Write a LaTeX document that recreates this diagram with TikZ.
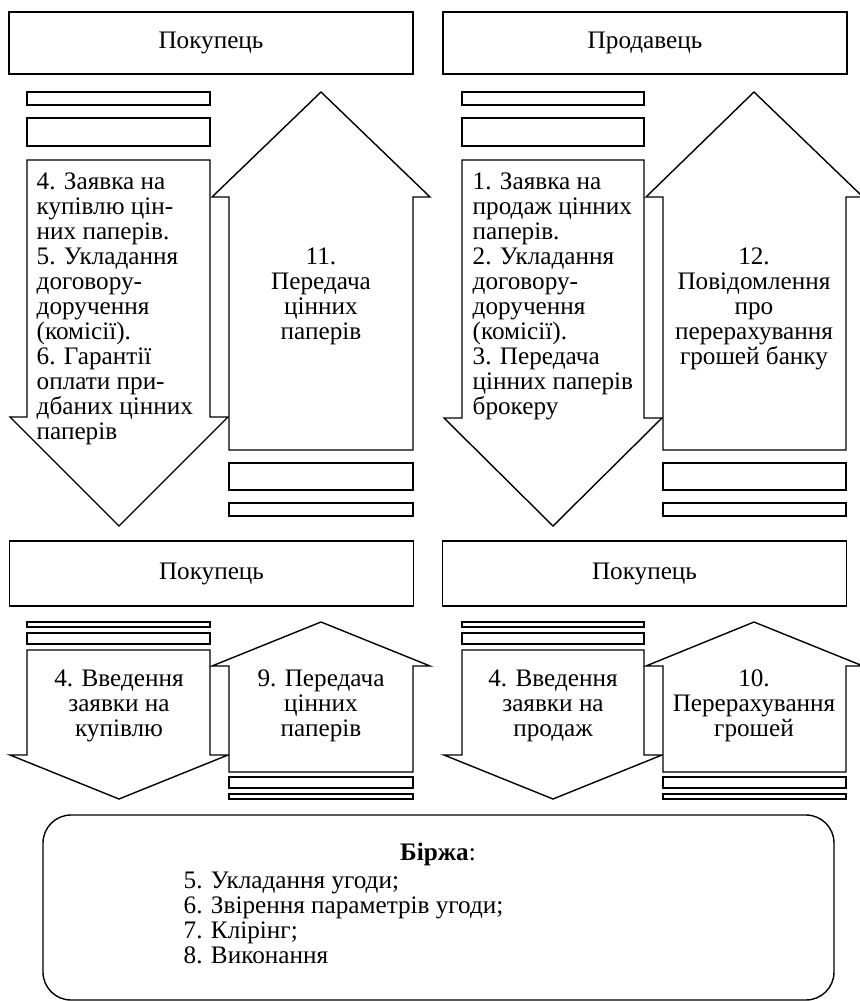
\documentclass[tikz,border=0pt]{standalone}
\usepackage{fontspec}
\setmainfont{Liberation Serif}
\begin{document}
\begin{tikzpicture}[x=0.5pt,y=-0.5pt,line width=0.7pt,line join=miter,
  shp/.style={draw,fill=white},
  txt/.style={inner sep=0pt,font=\fontsize{12.6}{12.5}\selectfont},
  hdr/.style={draw,fill=white,inner sep=0pt,minimum width=202pt,font=\fontsize{12.6}{12.5}\selectfont}]
\useasboundingbox (0,0) rectangle (860,1001);

% ---------- row 1 ----------
\node[hdr,minimum height=31pt] (buyerA) at (211,43) {Покупець};
\node[hdr,minimum height=31pt] (seller) at (645,43) {Продавець};

% bars above down arrows
\draw[shp] (27,92) rectangle (210,105);
\draw[shp] (27,118) rectangle (210,146);
\draw[shp] (462,92) rectangle (644,105);
\draw[shp] (462,118) rectangle (644,146);

% down arrows
\draw[shp] (27,160) -- (210,160) -- (210,417) -- (228,417) -- (119,526) -- (10,417) -- (27,417) -- cycle;
\draw[shp] (462,160) -- (644,160) -- (644,418) -- (662,418) -- (553,526) -- (444,418) -- (462,418) -- cycle;

% up arrows
\draw[shp] (321,92) -- (430,197) -- (413,197) -- (413,450) -- (229,450) -- (229,197) -- (212,197) -- cycle;
\draw[shp] (754,92) -- (863,197) -- (846,197) -- (846,450) -- (663,450) -- (663,197) -- (646,197) -- cycle;

% bars below up arrows
\draw[shp] (229,463) rectangle (413,490);
\draw[shp] (229,503) rectangle (413,516);
\draw[shp] (663,463) rectangle (846,490);
\draw[shp] (663,503) rectangle (846,516);

\node[txt,align=left,anchor=north west] (t4) at (36,172)
  {4. Заявка на\\купівлю цін-\\них паперів.\\5. Укладання\\договору-\\доручення\\(комісії).\\6. Гарантії\\оплати при-\\дбаних цінних\\паперів};
\node[txt,align=left,anchor=north west] (t1) at (472,172)
  {1. Заявка на\\продаж цінних\\паперів.\\2. Укладання\\договору-\\доручення\\(комісії).\\3. Передача\\цінних паперів\\брокеру};
\node[txt,align=center,anchor=north] (t11) at (321,247)
  {11.\\Передача\\цінних\\паперів};
\node[txt,align=center,anchor=north] (t12) at (754,247)
  {12.\\Повідомлення\\про\\перерахування\\грошей банку};

% ---------- row 2 ----------
\node[hdr,minimum height=32.5pt] (buyerB) at (211.5,573.5) {Покупець};
\node[hdr,minimum height=32.5pt] (buyerC) at (644.5,573.5) {Покупець};

\draw[shp] (27,622) rectangle (210,627);
\draw[shp] (27,633) rectangle (210,644);
\draw[shp] (462,622) rectangle (644,627);
\draw[shp] (462,633) rectangle (644,644);

\draw[shp] (27,650) -- (210,650) -- (210,755) -- (228,755) -- (119,799) -- (10,755) -- (27,755) -- cycle;
\draw[shp] (462,650) -- (644,650) -- (644,755) -- (662,755) -- (553,799) -- (444,755) -- (462,755) -- cycle;

\draw[shp] (321,622) -- (430,666) -- (413,666) -- (413,772) -- (229,772) -- (229,666) -- (212,666) -- cycle;
\draw[shp] (754,622) -- (863,666) -- (846,666) -- (846,772) -- (663,772) -- (663,666) -- (646,666) -- cycle;

\draw[shp] (229,777) rectangle (413,788);
\draw[shp] (229,794) rectangle (413,799);
\draw[shp] (663,777) rectangle (846,788);
\draw[shp] (663,794) rectangle (846,799);

\node[txt,align=center,anchor=north] (t4b) at (119,669)
  {4. Введення\\заявки на\\купівлю};
\node[txt,align=center,anchor=north] (t9) at (321,669)
  {9. Передача\\цінних\\паперів};
\node[txt,align=center,anchor=north] (t4c) at (553,669)
  {4. Введення\\заявки на\\продаж};
\node[txt,align=center,anchor=north] (t10) at (754,669)
  {10.\\Перерахування\\грошей};

% ---------- exchange ----------
\draw[shp,rounded corners=14pt] (43,815) rectangle (834,1000);
\node[txt,anchor=base] (exch) at (438,860) {\textbf{Біржа}:};
\node[txt,align=left,anchor=north west] (steps) at (183,871)
  {5. Укладання угоди;\\6. Звірення параметрів угоди;\\7. Клірінг;\\8. Виконання};
\end{tikzpicture}
\end{document}
